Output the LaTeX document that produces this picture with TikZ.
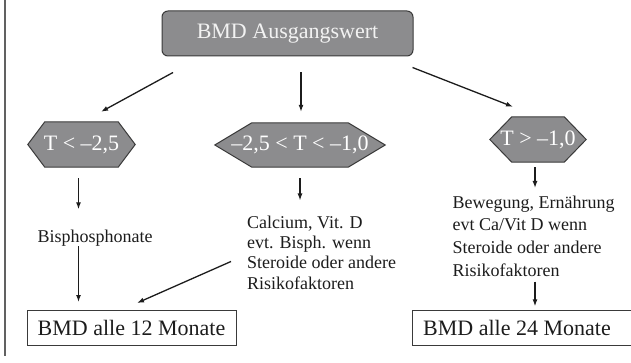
\documentclass[tikz,border=0pt]{standalone}
\usepackage{fontspec}
\setmainfont{Liberation Serif}
\usetikzlibrary{calc,arrows.meta,backgrounds}
\definecolor{boxgray}{HTML}{8C8C8E}
\definecolor{edgegray}{HTML}{3A3A3A}
\definecolor{inkcol}{HTML}{1C1C1C}
\definecolor{paletext}{HTML}{F2F2F2}
\tikzset{
  topbox/.style={draw=edgegray, line width=1pt, fill=boxgray, rounded corners=6pt,
    text=paletext, font=\fontsize{22}{26}\selectfont, inner sep=0pt,
    minimum width=251pt, minimum height=45pt},
  hextext/.style={inner sep=0pt, text=white, font=\fontsize{22}{26}\selectfont},
  hexshape/.style={draw=edgegray, line width=1pt, fill=boxgray},
  bodytext/.style={inner sep=0pt, text=inkcol, align=left},
  resultbox/.style={draw=edgegray, line width=1pt, inner sep=0pt, text=inkcol,
    font=\fontsize{22}{26}\selectfont, minimum width=209pt, minimum height=34.5pt},
  resulttext/.style={inner sep=0pt, text=inkcol,
    font=\fontsize{22}{26}\selectfont, minimum width=209pt, minimum height=34.5pt},
  arr/.style={draw=inkcol, line width=1.3pt, -{Latex[length=7pt,width=5pt]}},
}
\newcommand{\hexbg}[2]{\draw[hexshape] (#1.west) -- ([xshift=#2]#1.north west) -- ([xshift=-#2]#1.north east) -- (#1.east) -- ([xshift=-#2]#1.south east) -- ([xshift=#2]#1.south west) -- cycle;}
\begin{document}
\begin{tikzpicture}[x=1pt,y=-1pt]
\useasboundingbox (0,0) rectangle (631,363);
\clip (0,0) rectangle (631,363);
\draw[edgegray!80, line width=1.2pt] (5,0) -- (5,356);

\node[topbox] (top) at (287.5,33.5) {BMD Ausgangswert};

\node[hextext, minimum width=107pt, minimum height=45pt] (h1) at (81.5,144.5) {T < –2,5};
\node[hextext, minimum width=170pt, minimum height=44pt] (h2) at (300,145) {–2,5 < T < –1,0};
\node[hextext, minimum width=96pt, minimum height=45pt] (h3) at (538,139.5) {T > –1,0};
\begin{scope}[on background layer]
  \hexbg{h1}{17pt}
  \hexbg{h2}{37pt}
  \hexbg{h3}{22pt}
\end{scope}

\node[bodytext, font=\fontsize{18}{20.3}\selectfont, anchor=base] (bis) at (95,242) {Bisphosphonate};
\node[bodytext, font=\fontsize{18}{20.3}\selectfont, anchor=north west] (mid) at (247,215.5)
  {Calcium, Vit. D\\evt. Bisph. wenn\\Steroide oder andere\\Risikofaktoren};
\node[bodytext, font=\fontsize{18}{22.7}\selectfont, anchor=north west] (rt) at (452.5,195.5)
  {Bewegung, Ernährung\\evt Ca/Vit D wenn\\Steroide oder andere\\Risikofaktoren};

\node[resultbox] (b12) at (131.5,327.75) {BMD alle 12 Monate};
\node[resulttext] (b24) at (517,327.75) {BMD alle 24 Monate};
\draw[edgegray, line width=1pt] ([xshift=20pt]b24.north east) -- (b24.north west) -- (b24.south west) -- ([xshift=20pt]b24.south east);

% connectors
\draw[arr] ($(top.south)+(-114.5,16)$) -- ($(h1.north)+(19.5,-10)$);
\draw[arr] ($(top.south)+(13.5,16)$) -- ($(h2.north)+(1,-11)$);
\draw[arr] ($(top.south east)+(-1,11)$) -- ($(h3.north)+(-25,-10)$);
\draw[arr, shorten <=11pt, shorten >=20pt] ([xshift=-3pt]h1.south) -- ([xshift=-3pt]h1.south |- bis.north);
\draw[arr, shorten >=8pt] ([xshift=-3pt]h1.south |- bis.south) -- ([xshift=-3pt]h1.south |- b12.north);
\draw[arr, shorten <=11pt, shorten >=15pt] (h2.south) -- (h2.south |- mid.north);
\draw[arr] ($(mid.west)+(-16,9)$) -- ($(b12.north)+(5.5,-7)$);
\draw[arr, shorten <=5pt, shorten >=7.5pt] ([xshift=-3pt]h3.south) -- ([xshift=-3pt]h3.south |- rt.north);
\draw[arr, shorten <=5pt, shorten >=4pt] ([xshift=-3pt]h3.south |- rt.south) -- ([xshift=-3pt]h3.south |- b24.north);
\end{tikzpicture}
\end{document}
